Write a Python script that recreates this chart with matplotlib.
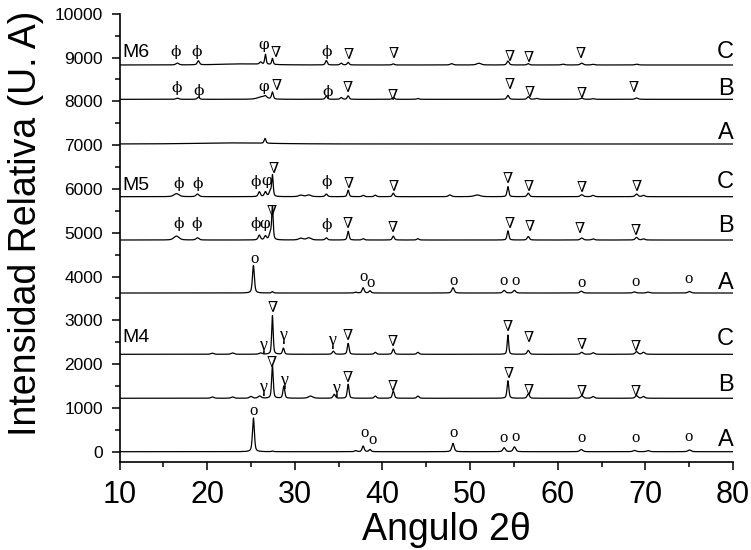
import numpy as np
import matplotlib
matplotlib.use("Agg")
import matplotlib.pyplot as plt
from matplotlib.ticker import MultipleLocator

# ---------------- data ----------------
# vertical offsets of each diffractogram (U. A)
names = ["M4-A", "M4-B", "M4-C", "M5-A", "M5-B", "M5-C", "M6-A", "M6-B", "M6-C"]
baselines = [0, 1220, 2224, 3623, 4833, 5822, 7025, 8045, 8829]
row_letters = ["A", "B", "C", "A", "B", "C", "A", "B", "C"]
row_letter_y = [267, 1523, 2566, 3844, 5152, 6164, 7283, 8275, 9125]

# peaks: (2theta, height, half width)
peaks_m4a = [(25.28, 770, 0.13), (27.45, 15, 0.12), (36.95, 25, 0.15), (37.8, 130, 0.14),
             (38.58, 50, 0.14), (48.05, 190, 0.16), (53.89, 90, 0.17), (55.06, 110, 0.17),
             (62.69, 50, 0.2), (68.76, 30, 0.2), (70.31, 25, 0.2), (75.03, 40, 0.2)]
peaks_m4b = [(20.6, 30, 0.2), (22.9, 30, 0.2), (25.0, 40, 0.2), (26.0, 50, 0.2),
             (27.45, 740, 0.11), (28.75, 280, 0.12), (31.8, 50, 0.3), (34.5, 90, 0.15),
             (36.09, 320, 0.12), (39.19, 50, 0.15), (41.24, 165, 0.13), (44.05, 50, 0.15),
             (54.32, 400, 0.12), (56.64, 100, 0.15), (62.74, 60, 0.18), (64.04, 40, 0.18),
             (69.0, 60, 0.18), (69.79, 40, 0.18)]
peaks_m4c = [(20.6, 25, 0.2), (22.9, 30, 0.2), (26.1, 30, 0.2), (27.45, 880, 0.1),
             (28.7, 140, 0.12), (34.4, 70, 0.15), (36.09, 250, 0.12), (39.19, 45, 0.15),
             (41.24, 120, 0.13), (44.05, 45, 0.15), (54.32, 440, 0.1), (56.64, 90, 0.15),
             (62.74, 45, 0.18), (64.04, 35, 0.18), (69.0, 60, 0.18), (69.79, 45, 0.18)]
peaks_m5a = [(25.28, 630, 0.13), (27.45, 30, 0.12), (36.95, 20, 0.15), (37.8, 120, 0.14),
             (38.58, 50, 0.14), (48.05, 120, 0.16), (53.89, 60, 0.17), (55.06, 60, 0.17),
             (62.69, 40, 0.2), (68.76, 25, 0.2), (70.31, 20, 0.2), (75.03, 35, 0.2)]
peaks_m5b = [(16.5, 90, 0.35), (18.9, 50, 0.2), (25.95, 110, 0.15), (26.65, 90, 0.15),
             (27.2, 150, 0.15), (27.45, 740, 0.1), (30.7, 40, 0.3), (31.6, 50, 0.3),
             (33.6, 50, 0.15), (36.09, 200, 0.12), (37.8, 30, 0.15), (41.24, 90, 0.13),
             (44.05, 30, 0.15), (54.32, 210, 0.12), (56.64, 80, 0.15), (62.74, 45, 0.18),
             (64.04, 25, 0.18), (69.0, 60, 0.18), (69.79, 25, 0.18)]
peaks_m5c = [(16.5, 70, 0.35), (18.9, 60, 0.2), (25.95, 110, 0.15), (26.65, 110, 0.15),
             (27.2, 120, 0.15), (27.45, 480, 0.1), (30.7, 35, 0.3), (31.6, 40, 0.3),
             (33.6, 60, 0.15), (36.09, 150, 0.12), (37.8, 30, 0.15), (39.19, 35, 0.15),
             (41.24, 80, 0.13), (47.7, 40, 0.2), (50.8, 40, 0.4), (54.32, 230, 0.12),
             (56.64, 80, 0.15), (62.74, 45, 0.18), (64.04, 30, 0.18), (69.0, 60, 0.18),
             (69.79, 30, 0.18)]
peaks_m6a = [(23.0, 25, 5.0), (26.6, 110, 0.12)]
peaks_m6b = [(16.6, 25, 0.2), (19.0, 50, 0.15), (26.3, 60, 0.6), (26.65, 40, 0.15),
             (27.45, 160, 0.12), (33.6, 70, 0.15), (35.3, 40, 0.15), (36.09, 80, 0.13),
             (41.24, 40, 0.15), (44.05, 20, 0.15), (54.32, 90, 0.15), (56.64, 60, 0.15),
             (57.6, 20, 0.2), (62.74, 25, 0.2), (64.04, 15, 0.2), (69.0, 30, 0.2)]
peaks_m6c = [(16.6, 40, 0.2), (19.0, 90, 0.15), (24.0, 25, 3.0), (26.1, 50, 0.15),
             (26.65, 230, 0.1), (27.45, 140, 0.1), (33.6, 100, 0.13), (35.3, 40, 0.15),
             (36.09, 60, 0.13), (41.24, 25, 0.15), (47.9, 30, 0.2), (51.0, 40, 0.3),
             (54.32, 90, 0.15), (56.64, 30, 0.15), (60.6, 20, 0.2), (62.74, 40, 0.2),
             (64.04, 15, 0.2), (69.0, 20, 0.2)]
all_peaks = [peaks_m4a, peaks_m4b, peaks_m4c, peaks_m5a, peaks_m5b, peaks_m5c,
             peaks_m6a, peaks_m6b, peaks_m6c]

# phase markers: (symbol, 2theta, intensity)
PHI = "\u03d5"   # stroked phi
VPHI = "\u03c6"  # loop phi
TRI = "\u2207"
marks_phi = [(PHI, 16.4, 9125), (PHI, 18.85, 9125), (VPHI, 26.4, 9285), (PHI, 33.6, 9125),
             (PHI, 16.5, 8296), (PHI, 19.0, 8240), (VPHI, 26.4, 8332), (PHI, 33.7, 8219),
             (PHI, 16.7, 6104), (PHI, 18.9, 6104), (PHI, 25.5, 6164), (VPHI, 26.75, 6180),
             (PHI, 33.65, 6164),
             (PHI, 16.75, 5198), (PHI, 18.85, 5198), (PHI, 25.5, 5198), (VPHI, 26.6, 5198),
             (PHI, 33.6, 5175)]
marks_tri = [(27.8, 9130), (36.2, 9085), (41.3, 9110), (54.5, 9040), (56.7, 9000), (62.6, 9090),
             (27.9, 8370), (36.1, 8320), (41.2, 8143), (54.5, 8393), (56.8, 8219), (62.7, 8196),
             (68.7, 8320),
             (27.65, 6470), (36.2, 6140), (41.3, 6072), (54.3, 6242), (56.7, 6072), (62.7, 6050),
             (69.0, 6072),
             (27.4, 5495), (36.1, 5228), (41.2, 5137), (54.5, 5228), (56.8, 5152), (62.5, 5100),
             (68.9, 5061),
             (27.45, 3297), (36.1, 2664), (41.2, 2534), (54.3, 2870), (56.7, 2612), (62.7, 2459),
             (68.85, 2420),
             (27.4, 2041), (36.1, 1712), (41.2, 1507), (54.4, 1790), (56.7, 1409), (62.7, 1393),
             (68.9, 1393)]
marks_gamma = [(26.4, 2420), (28.7, 2664), (34.3, 2550),
               (26.4, 1461), (28.75, 1637), (34.7, 1447)]
marks_o = [(25.4, 4392), (37.85, 3981), (38.7, 3844), (48.1, 3904), (53.85, 3897), (55.15, 3897),
           (62.7, 3858), (68.9, 3870), (74.9, 3935),
           (25.3, 936), (37.95, 420), (38.85, 267), (48.1, 420), (53.8, 306), (55.15, 342),
           (62.7, 306), (68.85, 306), (74.9, 329)]
group_labels = [("M6", 9125), ("M5", 6087), ("M4", 2603)]

x_ticks = [10, 20, 30, 40, 50, 60, 70, 80]
y_ticks = [0, 1000, 2000, 3000, 4000, 5000, 6000, 7000, 8000, 9000, 10000]

# ---------------- plot ----------------
two_theta = np.linspace(10, 80, 7001)


def pattern(peaks):
    y = np.zeros_like(two_theta)
    for c, h, w in peaks:
        d = (two_theta - c) / w
        y += h * (0.5 / (1 + d ** 2) + 0.5 * np.exp(-np.log(2) * d ** 2))
    return y


fig = plt.figure(figsize=(7.51, 5.5), dpi=100)
ax = fig.add_axes([119.5 / 751, 1 - 462 / 550, (733 - 119.5) / 751, (462 - 13.7) / 550])

for b, pk in zip(baselines, all_peaks):
    ax.plot(two_theta, b + pattern(pk), color="black", lw=0.9)

ax.set_xlim(10, 80)
ax.set_ylim(-235, 10000)
ax.spines["top"].set_visible(False)
ax.spines["right"].set_visible(False)
ax.spines["left"].set_linewidth(1.2)
ax.spines["bottom"].set_linewidth(1.2)
ax.set_xticks(x_ticks)
ax.set_yticks(y_ticks)
ax.xaxis.set_minor_locator(MultipleLocator(5))
ax.yaxis.set_minor_locator(MultipleLocator(500))
ax.tick_params(which="major", direction="out", length=6, width=1.1)
ax.tick_params(which="minor", direction="out", length=3.5, width=1.1)
ax.tick_params(axis="x", pad=7)
ax.tick_params(axis="y", pad=6)
for lab in ax.get_xticklabels():
    lab.set_fontfamily(["Liberation Sans", "DejaVu Sans"])
    lab.set_fontsize(22)
for lab in ax.get_yticklabels():
    lab.set_fontfamily(["Liberation Sans", "DejaVu Sans"])
    lab.set_fontsize(12.5)

serif = ["DejaVu Serif"]
tserif = ["Liberation Serif", "DejaVu Serif"]
for s, x, y in marks_phi:
    ax.text(x, y, s, family=serif, fontsize=11, ha="center", va="center")
for x, y in marks_tri:
    ax.text(x, y, TRI, family=serif, fontsize=10.5, ha="center", va="center")
for x, y in marks_gamma:
    ax.text(x, y, "\u03b3", family=tserif, fontsize=13, ha="center", va="center")
for x, y in marks_o:
    ax.text(x, y, "o", family=tserif, fontsize=12, ha="center", va="center")
for t, y in group_labels:
    ax.text(10.3, y, t, family=["Liberation Sans"], fontsize=14, ha="left", va="center")
for t, y in zip(row_letters, row_letter_y):
    ax.text(80.05, y, t, family=["Liberation Sans"], fontsize=17, ha="right", va="center",
            clip_on=False)

fig.text(26 / 751, 1 - 223 / 550, "Intensidad Relativa (U. A)", rotation=90,
         family=["Liberation Sans", "DejaVu Sans"], fontsize=27, ha="center", va="center")
fig.text(446 / 751, 1 - 540 / 550, "Angulo 2\u03b8",
         family=["Liberation Sans", "DejaVu Sans"], fontsize=27,
         ha="center", va="baseline")

fig.savefig("out.png", dpi=100)
